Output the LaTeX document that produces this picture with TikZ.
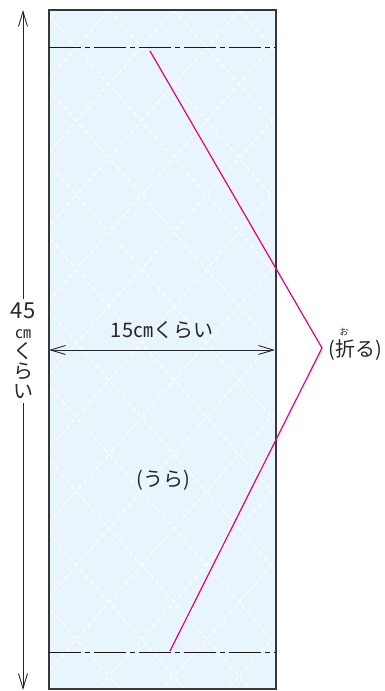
\documentclass[tikz,border=0pt]{standalone}
\usepackage{fontspec}
\setmainfont{Noto Sans CJK JP}
\usetikzlibrary{arrows.meta, positioning}
\definecolor{paper}{RGB}{232,245,252}
\definecolor{foldpink}{RGB}{230,0,126}
\definecolor{edge}{RGB}{55,55,55}

\begin{document}
\begin{tikzpicture}[x=1pt, y=-1pt,
  barb/.style={-{Straight Barb[length=15pt,width=9pt]}, line width=0.9pt, black!85},
  twobarb/.style={{Straight Barb[length=15pt,width=9pt]}-{Straight Barb[length=15pt,width=9pt]}, line width=0.9pt, black!85},
  quilt/.style={white, line width=1pt, dash pattern=on 5pt off 3pt},
  foldline/.style={black!90, line width=0.9pt, dash pattern=on 32pt off 4pt on 5pt off 4pt},
  valley/.style={foldpink, line width=1.2pt},
  lbl/.style={font=\fontsize{20}{20}\selectfont, inner sep=0pt, text=black!85},
  ruby/.style={font=\fontsize{9}{9}\selectfont, inner sep=0pt, text=black!85}]
\useasboundingbox (0,0) rectangle (385,691);
\node[fill=paper, minimum width=227pt, minimum height=679pt, inner sep=0pt] (cloth) at (162.5,349.5) {};
\begin{scope}
\clip (cloth.north west) rectangle (cloth.south east);
\foreach \i in {-10,...,12} {
  \draw[quilt] (109+65*\i,10) -- ++(597,680);
  \draw[quilt] (109+65*\i,10) -- ++(-597,680);
}
\end{scope}
\node[draw=edge, line width=1.1pt, minimum width=227pt, minimum height=679pt, inner sep=0pt] at (cloth.center) {};

\coordinate (foldLa) at (49,47);
\coordinate (foldLb) at (276,47);
\coordinate (foldMa) at (49,652);
\coordinate (foldMb) at (276,652);
\draw[foldline] (foldLa) -- (foldLb);
\draw[foldline] (foldMa) -- (foldMb);

\coordinate (vtop) at (150,51);
\coordinate (vapex) at (322,348);
\coordinate (vbot) at (170,651);
\draw[valley] (vtop) -- (vapex) -- (vbot);

\coordinate (wl) at (49,350);
\coordinate (wr) at (275,350);
\draw[twobarb] (wl) -- (wr);
\node[lbl] (width) at (162,330) {15㎝くらい};

\node[lbl, align=center, inner ysep=4pt] (height) at (23,351) {{\fontsize{22}{20}\selectfont 45}\\{\fontsize{16}{18}\selectfont ㎝}\\く\\ら\\い};
\coordinate (htop) at (23,10);
\coordinate (hbot) at (23,690);
\draw[barb] (height.north) -- (htop);
\draw[barb] (height.south) -- (hbot);

\node[lbl] (back) at (163,480) {(うら)};
\node[lbl] (oru) at (355,350) {(折る)};
\node[ruby] (oruby) at (344,332) {お};
\end{tikzpicture}
\end{document}
